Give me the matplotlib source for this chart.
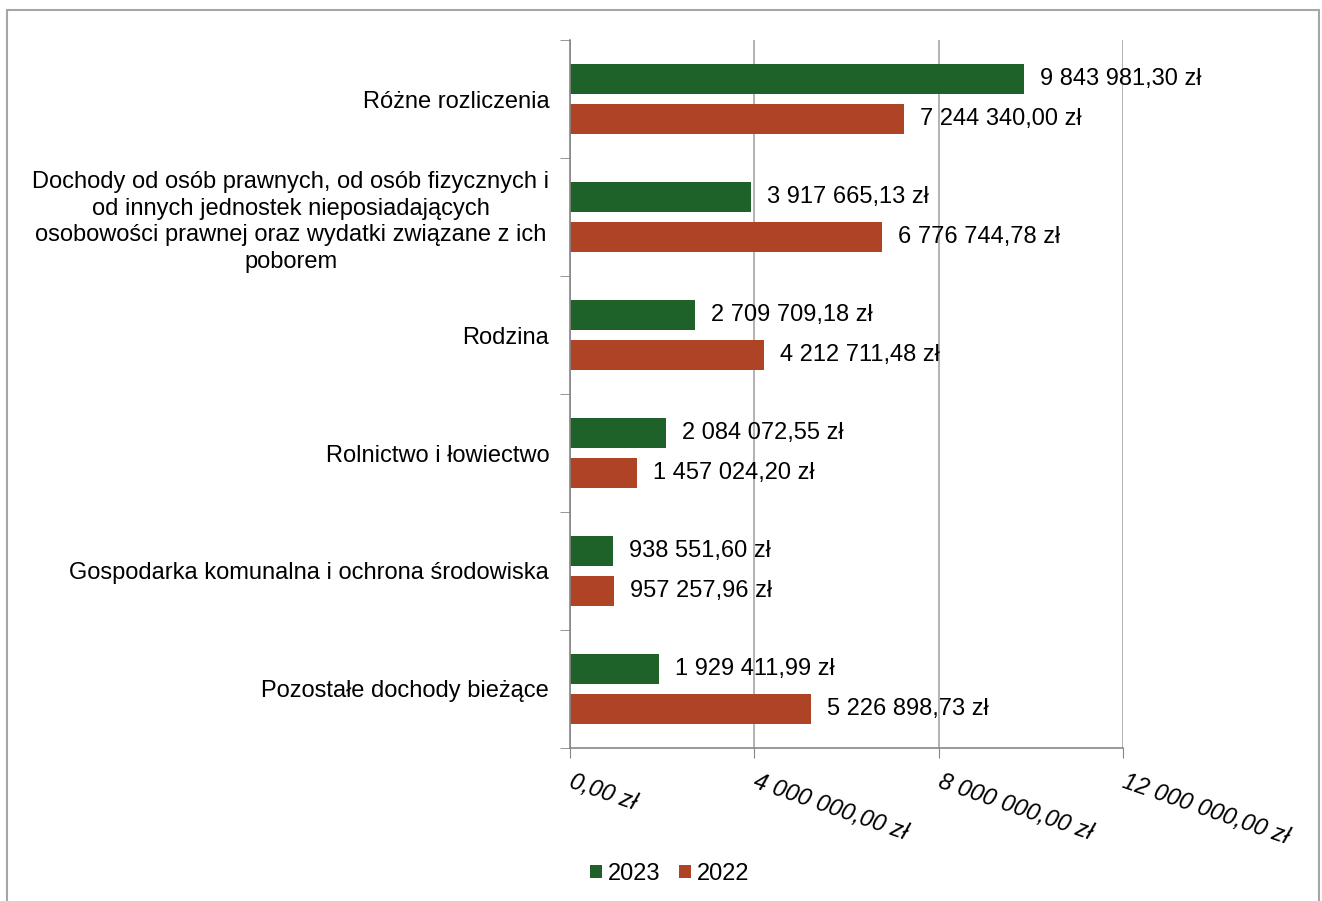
import matplotlib.pyplot as plt
import matplotlib.patches as mpatches
import matplotlib.transforms as mtransforms
import numpy as np

plt.rcParams['font.family'] = ['Liberation Sans', 'DejaVu Sans']

categories = [
    "Różne rozliczenia",
    "Dochody od osób prawnych, od osób fizycznych i\nod innych jednostek nieposiadających\nosobowości prawnej oraz wydatki związane z ich\npoborem",
    "Rodzina",
    "Rolnictwo i łowiectwo",
    "Gospodarka komunalna i ochrona środowiska",
    "Pozostałe dochody bieżące",
]
v2023 = [9843981.30, 3917665.13, 2709709.18, 2084072.55, 938551.60, 1929411.99]
v2022 = [7244340.00, 6776744.78, 4212711.48, 1457024.20, 957257.96, 5226898.73]
xticks = [0, 4000000, 8000000, 12000000]

green = '#1e6129'
red = '#ae4326'


def zl(v):
    s = f"{v:,.2f}"
    s = s.replace(",", " ").replace(".", ",")
    return s + " zł"


fig = plt.figure(figsize=(13.22, 9.01), dpi=100)
ax = fig.add_axes([570 / 1322, 1 - 748 / 901, (1123 - 570) / 1322, (748 - 40) / 901])

# outer frame
fig.patches.append(mpatches.Rectangle((7 / 1322, -0.05), (1319 - 7) / 1322, 1.05 - 10 / 901,
                                      transform=fig.transFigure, fill=False,
                                      edgecolor='#a6a6a6', linewidth=1.5))

y = np.arange(len(categories))
off = 0.17
h = 0.255
ax.barh(y - off, v2023, height=h, color=green, label='2023')
ax.barh(y + off, v2022, height=h, color=red, label='2022')

fs = 17
for yi, a, b in zip(y, v2023, v2022):
    ax.annotate(zl(a), (a, yi - off), xytext=(11.5, 0), textcoords='offset points',
                va='center', ha='left', fontsize=fs)
    ax.annotate(zl(b), (b, yi + off), xytext=(11.5, 0), textcoords='offset points',
                va='center', ha='left', fontsize=fs)

ax.set_ylim(len(categories) - 0.5, -0.5)
ax.set_xlim(0, 12000000)
ax.set_yticks(y)
ax.set_yticklabels(categories, fontsize=fs, multialignment='center', linespacing=1.27)
ax.tick_params(axis='y', length=0, pad=15)
ax.set_yticks(np.arange(-0.5, len(categories)), minor=True)
ax.tick_params(axis='y', which='minor', length=7, color='#868686')

ax.set_xticks(xticks)
ax.set_xticklabels([zl(t) for t in xticks], fontsize=fs,
                   style='italic', rotation=-19, ha='left', va='top', rotation_mode='anchor')
ax.tick_params(axis='x', length=7, color='#868686', pad=9)
shift = mtransforms.ScaledTranslation(4 / 100, 0, fig.dpi_scale_trans)
for lab in ax.get_xticklabels():
    lab.set_transform(lab.get_transform() + shift)

ax.grid(axis='x', color='#a6a6a6', linewidth=1.2)
ax.set_axisbelow(True)
for s in ['top', 'right']:
    ax.spines[s].set_visible(False)
for s in ['left', 'bottom']:
    ax.spines[s].set_color('#868686')
    ax.spines[s].set_linewidth(1.2)

ax.legend(loc='center', bbox_to_anchor=(670 / 1322, 1 - 874 / 901), bbox_transform=fig.transFigure,
          ncol=2, frameon=False, fontsize=fs, handlelength=0.5, handleheight=0.5,
          handletextpad=0.25, columnspacing=0.8)

fig.savefig('out.png', dpi=100)
